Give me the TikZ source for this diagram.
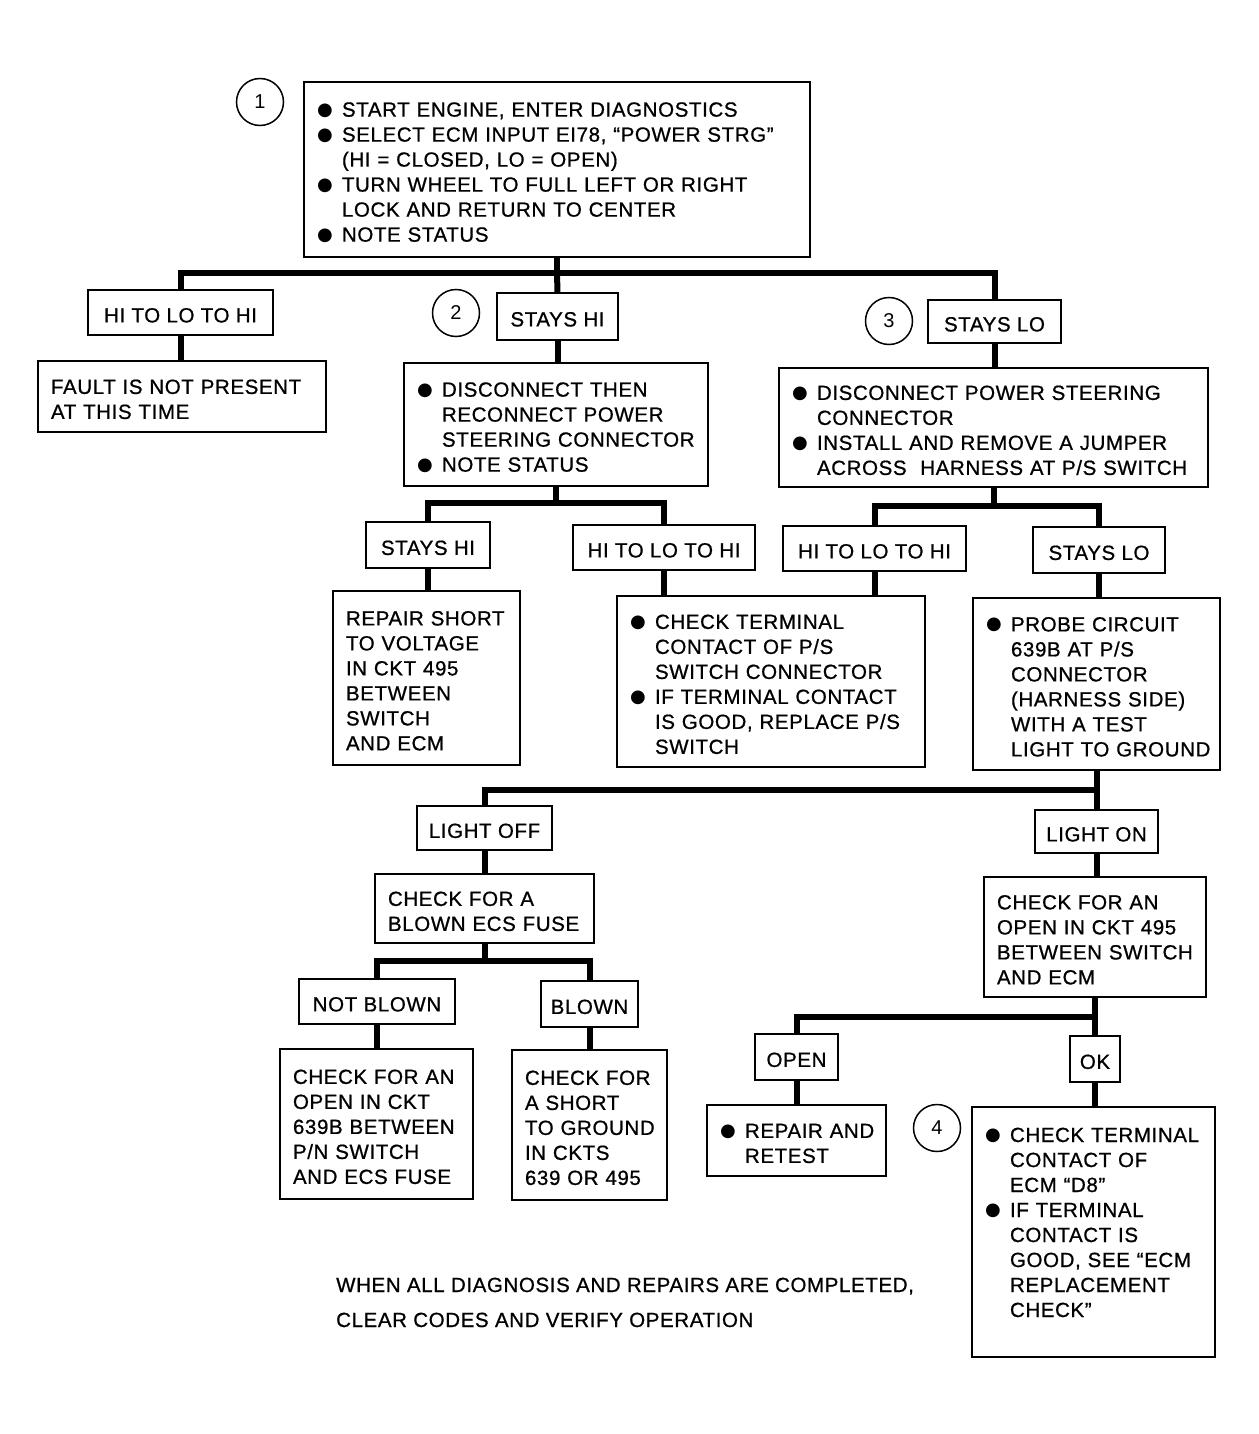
\documentclass[tikz,border=0pt]{standalone}
\usepackage{fontspec}
\setmainfont[LetterSpace=3]{Liberation Sans}
\newfontfamily\medfont[LetterSpace=3,FakeBold=0.8]{Liberation Sans}
\newfontfamily\dejavu{DejaVu Sans}
\newcommand\bul{\makebox[25pt][l]{\raisebox{1.5pt}{\fontsize{18}{18}\dejavu ●}}}
\newcommand\bl[1]{\mbox{\bul#1}}
\newcommand\cl[1]{\mbox{\hspace*{25pt}#1}}
\newcommand\pl[1]{\mbox{#1}}
\tikzset{
  tbox/.style={draw, line width=2pt, anchor=north west, inner xsep=13pt, inner ysep=0pt,
    outer sep=0pt, align=left, font=\medfont\fontsize{20.5}{25}\selectfont,
    execute at begin node={\rule{0pt}{20pt}}},
  lbl/.style={draw, line width=2pt, anchor=north west, inner sep=0pt, outer sep=0pt,
    font=\medfont\fontsize{20.5}{25}\selectfont,
    execute at begin node={\rule{0pt}{20pt}}},
  num/.style={circle, draw, line width=1.5pt, minimum size=47pt, inner sep=0pt,
    outer sep=0pt, font=\fontsize{20}{20}\selectfont},
  conn/.style={line width=6pt, line join=miter}
}
\begin{document}
\begin{tikzpicture}[x=1pt,y=-1pt]
\fill[white] (0,0) rectangle (1258,1434);
\useasboundingbox (0,0) rectangle (1258,1434);

% level 1
\node[num] (c1) at (260,102) {1};
\node[tbox, text width=480pt, minimum height=175pt] (n1) at (304,82)
 {\bl{START ENGINE, ENTER DIAGNOSTICS}\\
  \bl{SELECT ECM INPUT EI78, “POWER STRG”}\\
  \cl{(HI = CLOSED, LO = OPEN)}\\
  \bl{TURN WHEEL TO FULL LEFT OR RIGHT}\\
  \cl{LOCK AND RETURN TO CENTER}\\
  \bl{NOTE STATUS}};

\node[lbl, minimum width=185pt, minimum height=45pt] (h1) at (88,290) {HI TO LO TO HI};
\node[tbox, text width=262pt, minimum height=71pt] (fault) at (38,361)
 {\pl{FAULT IS NOT PRESENT}\\ \pl{AT THIS TIME}};

\node[num] (c2) at (456,313) {2};
\node[lbl, minimum width=121pt, minimum height=47pt] (sh1) at (497,293) {STAYS HI};
\node[tbox, text width=278pt, minimum height=123pt] (n2) at (404,363)
 {\bl{DISCONNECT THEN}\\
  \cl{RECONNECT POWER}\\
  \cl{STEERING CONNECTOR}\\
  \bl{NOTE STATUS}};

\node[num] (c3) at (889,321) {3};
\node[lbl, minimum width=133pt, minimum height=43pt] (sl1) at (928,300) {STAYS LO};
\node[tbox, text width=403pt, minimum height=119pt] (n3) at (779,368)
 {\bl{DISCONNECT POWER STEERING}\\
  \cl{CONNECTOR}\\
  \bl{INSTALL AND REMOVE A JUMPER}\\
  \cl{ACROSS\ \ HARNESS AT P/S SWITCH}};

% level 2
\node[lbl, minimum width=124pt, minimum height=46pt] (sh2) at (366,522) {STAYS HI};
\node[lbl, minimum width=182pt, minimum height=45pt] (h2) at (573,525) {HI TO LO TO HI};
\node[lbl, minimum width=183pt, minimum height=45pt] (h3) at (783,526) {HI TO LO TO HI};
\node[lbl, minimum width=132pt, minimum height=46pt] (sl2) at (1033,527) {STAYS LO};

\node[tbox, text width=161pt, minimum height=174pt] (repair) at (333,591)
 {\pl{REPAIR SHORT}\\ \pl{TO VOLTAGE}\\ \pl{IN CKT 495}\\ \pl{BETWEEN}\\ \pl{SWITCH}\\ \pl{AND ECM}};
\node[tbox, text width=282pt, minimum height=171pt] (check) at (617,596)
 {\bl{CHECK TERMINAL}\\
  \cl{CONTACT OF P/S}\\
  \cl{SWITCH CONNECTOR}\\
  \bl{IF TERMINAL CONTACT}\\
  \cl{IS GOOD, REPLACE P/S}\\
  \cl{SWITCH}};
\node[tbox, text width=221pt, minimum height=172pt] (probe) at (973,598)
 {\bl{PROBE CIRCUIT}\\
  \cl{639B AT P/S}\\
  \cl{CONNECTOR}\\
  \cl{(HARNESS SIDE)}\\
  \cl{WITH A TEST}\\
  \cl{LIGHT TO GROUND}};

% level 3
\node[lbl, minimum width=135pt, minimum height=44pt] (lightoff) at (417,806) {LIGHT OFF};
\node[lbl, minimum width=123pt, minimum height=43pt] (lighton) at (1035,810) {LIGHT ON};

\node[tbox, text width=193pt, minimum height=69pt] (blownq) at (375,874)
 {\pl{CHECK FOR A}\\ \pl{BLOWN ECS FUSE}};
\node[lbl, minimum width=156pt, minimum height=45pt] (notblown) at (299,979) {NOT BLOWN};
\node[lbl, minimum width=97pt, minimum height=46pt] (blown) at (541,981) {BLOWN};
\node[tbox, text width=167pt, minimum height=150pt] (openA) at (280,1049)
 {\pl{CHECK FOR AN}\\ \pl{OPEN IN CKT}\\ \pl{639B BETWEEN}\\ \pl{P/N SWITCH}\\ \pl{AND ECS FUSE}};
\node[tbox, text width=129pt, minimum height=150pt] (shortA) at (512,1050)
 {\pl{CHECK FOR}\\ \pl{A SHORT}\\ \pl{TO GROUND}\\ \pl{IN CKTS}\\ \pl{639 OR 495}};

\node[tbox, text width=196pt, minimum height=120pt] (open495) at (984,877)
 {\pl{CHECK FOR AN}\\ \pl{OPEN IN CKT 495}\\ \pl{BETWEEN SWITCH}\\ \pl{AND ECM}};
\node[lbl, minimum width=83pt, minimum height=46pt] (open) at (755,1034) {OPEN};
\node[lbl, minimum width=50pt, minimum height=46pt] (ok) at (1070,1036) {OK};
\node[tbox, text width=153pt, minimum height=71pt] (retest) at (707,1105)
 {\bl{REPAIR AND}\\ \cl{RETEST}};
\node[num] (c4) at (937,1128) {4};
\node[tbox, text width=217pt, minimum height=250pt] (ecm) at (972,1107)
 {\bl{CHECK TERMINAL}\\
  \cl{CONTACT OF}\\
  \cl{ECM “D8”}\\
  \bl{IF TERMINAL}\\
  \cl{CONTACT IS}\\
  \cl{GOOD, SEE “ECM}\\
  \cl{REPLACEMENT}\\
  \cl{CHECK”}\\
  \mbox{}};

\node[anchor=base west, align=left, inner sep=0pt, font=\medfont\fontsize{20.5}{35}\selectfont] (foot) at (336,1327)
 {WHEN ALL DIAGNOSIS AND REPAIRS ARE COMPLETED,\\ CLEAR CODES AND VERIFY OPERATION};

% connectors
\coordinate (b1) at (557,273);
\draw[conn] (n1.south) -- (b1);
\draw[conn] (h1.north) |- (b1) -| (sl1.north);
\draw[conn] (b1) -- (sh1.north);
\draw[conn] (h1.south) -- (h1.south |- fault.north);
\draw[conn] (sh1.south) -- (sh1.south |- n2.north);
\draw[conn] (sl1.south) -- (sl1.south |- n3.north);

\coordinate (b2) at (556,503);
\draw[conn] (n2.south) -- (b2);
\draw[conn] (sh2.north) |- (b2) -| (h2.north);
\coordinate (b3) at (993.5,506);
\draw[conn] (n3.south) -- (b3);
\draw[conn] (h3.north) |- (b3) -| (sl2.north);

\draw[conn] (sh2.south) -- (sh2.south |- repair.north);
\draw[conn] (h2.south) -- (h2.south |- check.north);
\draw[conn] (h3.south) -- (h3.south |- check.north);
\draw[conn] (sl2.south) -- (sl2.south |- probe.north);

\coordinate (b4) at (1096.5,790);
\draw[conn] (probe.south) -- (b4);
\draw[conn] (lightoff.north) |- (b4) -- (lighton.north);
\draw[conn] (lightoff.south) -- (lightoff.south |- blownq.north);

\coordinate (b5) at (484.5,961);
\draw[conn] (blownq.south) -- (b5);
\draw[conn] (notblown.north) |- (b5) -| (blown.north);
\draw[conn] (notblown.south) -- (notblown.south |- openA.north);
\draw[conn] (blown.south) -- (blown.south |- shortA.north);

\draw[conn] (lighton.south) -- (lighton.south |- open495.north);
\coordinate (b6) at (1095,1017);
\draw[conn] (open495.south) -- (b6);
\draw[conn] (open.north) |- (b6) -- (ok.north);
\draw[conn] (open.south) -- (open.south |- retest.north);
\draw[conn] (ok.south) -- (ok.south |- ecm.north);
\end{tikzpicture}
\end{document}
